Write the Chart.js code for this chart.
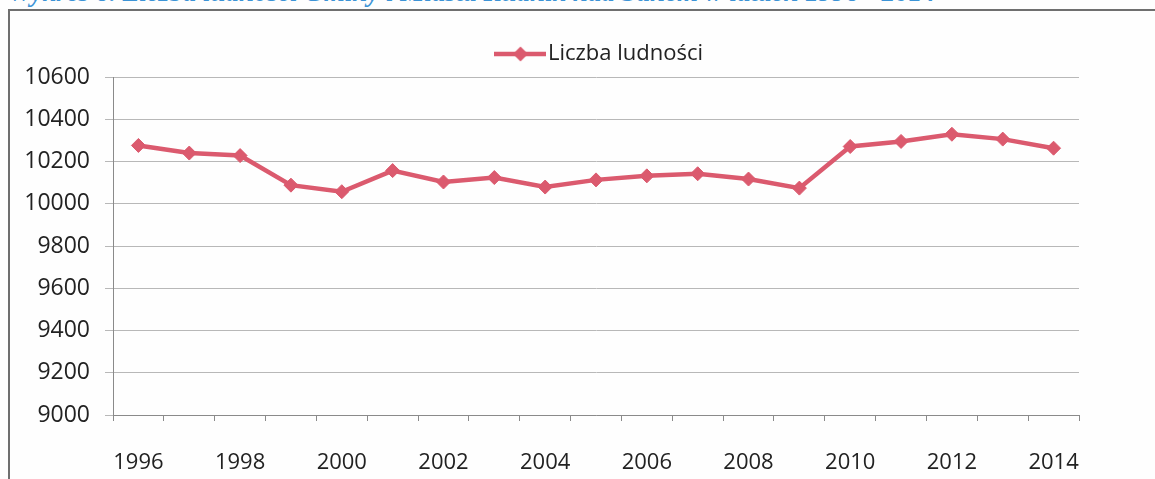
<!DOCTYPE html>
<html>
<head>
<meta charset="utf-8">
<script src="https://cdn.jsdelivr.net/npm/chart.js@4/dist/chart.umd.min.js"></script>
<style>
 html, body { margin: 0; padding: 0; background: #fff; overflow: hidden; }
 .page { position: relative; width: 1155px; height: 479px; overflow: hidden; background: #fefefe; }
 .caption { position: absolute; left: 8px; top: -21px; white-space: nowrap; font: italic bold 27px/27px "Liberation Serif", serif; color: #3d94d6; }
 .frame { position: absolute; left: 8px; top: 9px; width: 1200px; height: 500px; border-left: 2px solid #6f6f6f; border-top: 2px solid #6f6f6f; }
 .wrap { position: absolute; left: 0; top: 0; width: 1155px; height: 479px; }
</style>
</head>
<body>
<div class="page">
 <div class="caption">Wykres 6. Liczba ludności Gminy i Miasta Rudnik nad Sanem w latach 1996 - 2014</div>
 <div class="frame"></div>
 <div class="wrap"><canvas id="myChart" width="1155" height="479" style="width:1155px;height:479px"></canvas></div>
</div>
<script>
'use strict';

var years = ['1996', '1997', '1998', '1999', '2000', '2001', '2002', '2003', '2004', '2005',
             '2006', '2007', '2008', '2009', '2010', '2011', '2012', '2013', '2014'];
var population = [10276, 10240, 10228, 10088, 10057, 10157, 10103, 10124, 10079, 10113,
                  10132, 10142, 10117, 10074, 10271, 10295, 10329, 10306, 10263];
var yearLabels = ['1996', '1998', '2000', '2002', '2004', '2006', '2008', '2010', '2012', '2014'];
var yTicks = [9000, 9200, 9400, 9600, 9800, 10000, 10200, 10400, 10600];
var seriesName = 'Liczba ludności';

(function () {
 var ctx = document.getElementById('myChart');
 var red = '#db5a6e';
 var font = '"Open Sans", sans-serif';

 // legend marker: line with a diamond in the middle
 var marker = document.createElement('canvas');
 marker.width = 52;
 marker.height = 18;
 var m = marker.getContext('2d');
 m.strokeStyle = red;
 m.lineWidth = 4.5;
 m.beginPath();
 m.moveTo(0, 9);
 m.lineTo(52, 9);
 m.stroke();
 m.fillStyle = red;
 m.beginPath();
 m.moveTo(26, 1.5);
 m.lineTo(33.5, 9);
 m.lineTo(26, 16.5);
 m.lineTo(18.5, 9);
 m.closePath();
 m.fill();

 // fixed legend height, and the legend sits a bit right of the centre in the original
 var legendTweak = {
  id: 'legendTweak',
  beforeLayout: function (chart) {
   var legend = chart.legend;
   if (legend && !legend._patched) {
    var fit = legend.fit;
    legend.fit = function () {
     fit.call(this);
     this.height = 45;
    };
    legend._patched = true;
   }
  },
  afterLayout: function (chart) {
   chart.legend.left += 59;
   chart.legend.right += 59;
  }
 };

 var myChart = new Chart(ctx, {
  type: 'line',
  data: {
   labels: years,
   datasets: [{
    label: seriesName,
    data: population,
    borderColor: red,
    backgroundColor: red,
    borderWidth: 4.5,
    pointStyle: 'rectRot',
    pointRadius: 7,
    pointBorderWidth: 1,
    tension: 0
   }]
  },
  plugins: [legendTweak],
  options: {
   responsive: false,
   animation: false,
   devicePixelRatio: 1,
   layout: { padding: { left: 10, right: 76, top: 32, bottom: 0 } },
   plugins: {
    tooltip: { enabled: false },
    legend: {
     position: 'top',
     labels: {
      usePointStyle: true,
      pointStyleWidth: 33,
      padding: 11,
      color: '#222',
      font: { family: font, size: 22 },
      generateLabels: function (chart) {
       var items = Chart.defaults.plugins.legend.labels.generateLabels(chart);
       items.forEach(function (item) { item.pointStyle = marker; });
       return items;
      }
     }
    }
   },
   scales: {
    x: {
     offset: true,
     grid: { display: true, drawOnChartArea: false, drawTicks: true, tickLength: 6, offset: true, color: '#8a8a8a' },
     border: { color: '#8a8a8a', width: 1 },
     ticks: {
      autoSkip: false,
      maxRotation: 0,
      padding: 29,
      color: '#222',
      font: { family: font, size: 22 },
      callback: function (value, index) {
       var label = this.getLabelForValue(value);
       return yearLabels.indexOf(label) >= 0 ? label : '';
      }
     },
     afterFit: function (scale) { scale.height = 64; }
    },
    y: {
     min: yTicks[0],
     max: yTicks[yTicks.length - 1],
     grid: { color: '#b8b8b8', tickLength: 8, drawTicks: true },
     border: { color: '#8a8a8a', width: 1 },
     ticks: {
      stepSize: 200,
      padding: 15,
      color: '#222',
      font: { family: font, size: 23 },
      callback: function (value) { return String(value); }
     },
     afterFit: function (scale) { scale.width = 103; }
    }
   }
  }
 });
})();
</script>
</body>
</html>
